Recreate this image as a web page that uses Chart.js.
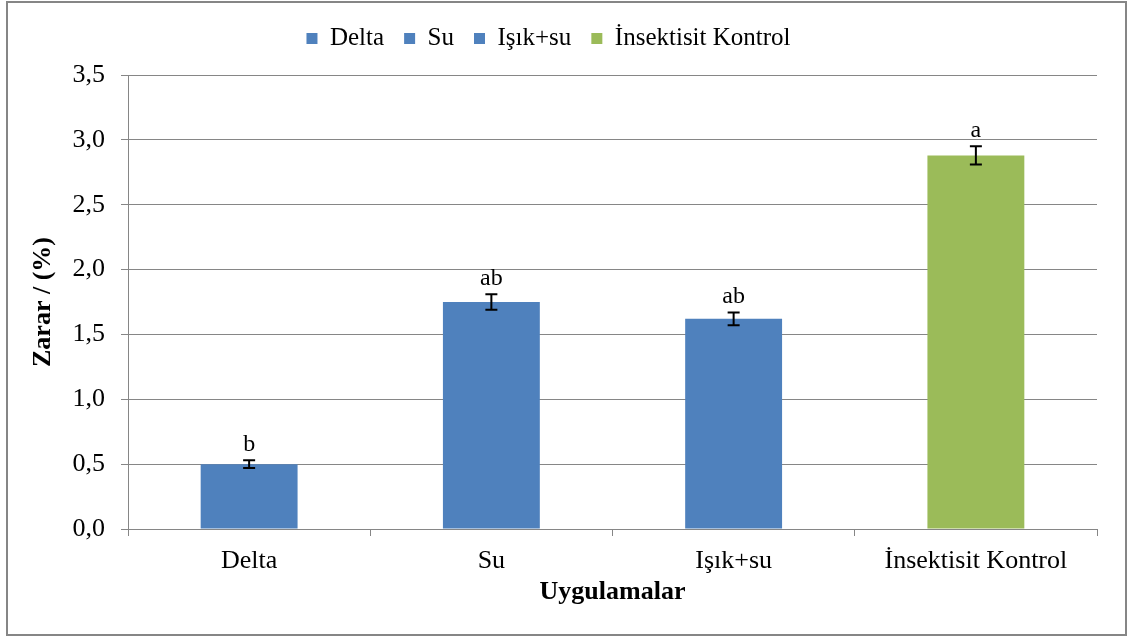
<!DOCTYPE html>
<html>
<head>
<meta charset="utf-8">
<script src="https://cdn.jsdelivr.net/npm/chart.js@4"></script>
<style>
  body { margin: 0; background: #fff; }
  #wrap { width: 1130px; height: 639px; }
</style>
</head>
<body>
<div id="wrap"><canvas id="chart"></canvas></div>
<script>
const labels = ['Delta', 'Su', 'Işık+su', 'İnsektisit Kontrol'];
const values = [0.50, 1.75, 1.62, 2.88];
const errors = [0.03, 0.06, 0.05, 0.07];
const letters = ['b', 'ab', 'ab', 'a'];
const colors = ['#4F81BD', '#4F81BD', '#4F81BD', '#9BBB59'];

const serif = 'Liberation Serif';
const gray = '#868686';

Chart.defaults.font.family = serif;

// frame around the whole figure + white background
const framePlugin = {
  id: 'frame',
  beforeDraw(chart) {
    const ctx = chart.ctx;
    ctx.save();
    ctx.fillStyle = '#fff';
    ctx.fillRect(0, 0, chart.width, chart.height);
    ctx.strokeStyle = gray;
    ctx.lineWidth = 2;
    ctx.strokeRect(7, 2, 1119, 633);
    ctx.restore();
  }
};

// error bars and significance letters
const errPlugin = {
  id: 'errbars',
  afterDatasetsDraw(chart) {
    const ctx = chart.ctx;
    const y = chart.scales.y;
    const meta = chart.getDatasetMeta(0);
    ctx.save();
    ctx.strokeStyle = '#000';
    ctx.lineWidth = 2;
    meta.data.forEach((bar, i) => {
      const cx = bar.x;
      const top = y.getPixelForValue(values[i] + errors[i]);
      const bot = y.getPixelForValue(values[i] - errors[i]);
      ctx.beginPath();
      ctx.moveTo(cx, top); ctx.lineTo(cx, bot);
      ctx.moveTo(cx - 6, top); ctx.lineTo(cx + 6, top);
      ctx.moveTo(cx - 6, bot); ctx.lineTo(cx + 6, bot);
      ctx.stroke();
      ctx.fillStyle = '#000';
      ctx.font = '24px "Liberation Serif"';
      ctx.textAlign = 'center';
      ctx.textBaseline = 'alphabetic';
      ctx.fillText(letters[i], cx, top - 9);
    });
    ctx.restore();
  }
};

const legendHeight = {
  id: 'legendHeight',
  beforeInit(chart) {
    const fit = chart.legend.fit;
    chart.legend.fit = function () {
      fit.call(this);
      this.height = 69;
    };
  }
};

new Chart(document.getElementById('chart'), {
  type: 'bar',
  data: {
    labels: labels,
    datasets: [{
      data: values,
      backgroundColor: colors,
      barPercentage: 0.4,
      categoryPercentage: 1.0
    }]
  },
  options: {
    responsive: true,
    maintainAspectRatio: false,
    animation: false,
    layout: { padding: { top: 6, right: 33, bottom: 0, left: 0 } },
    plugins: {
      tooltip: { enabled: false },
      legend: {
        position: 'top',
        labels: {
          color: '#000',
          font: { family: serif, size: 25 },
          boxWidth: 11,
          boxHeight: 11,
          padding: 20,
          generateLabels: () => labels.map((l, i) => ({
            text: l, fillStyle: colors[i], strokeStyle: colors[i],
            fontColor: '#000', lineWidth: 0, hidden: false, index: i
          }))
        }
      }
    },
    scales: {
      y: {
        min: 0,
        max: 3.5,
        afterFit: s => { s.width = 128; },
        ticks: {
          stepSize: 0.5,
          color: '#000',
          font: { family: serif, size: 26 },
          padding: 16,
          callback: v => v.toFixed(1).replace('.', ',')
        },
        grid: { color: gray, tickLength: 7 },
        border: { color: gray },
        title: {
          display: true,
          text: 'Zarar / (%)',
          color: '#000',
          font: { family: serif, size: 26, weight: 'bold' },
          padding: { top: 28, bottom: 0 }
        }
      },
      x: {
        afterFit: s => { s.height = 110; },
        ticks: {
          color: '#000',
          font: { family: serif, size: 26 },
          padding: 10
        },
        grid: { color: gray, tickLength: 7, drawOnChartArea: false },
        border: { color: gray },
        title: {
          display: true,
          text: 'Uygulamalar',
          color: '#000',
          font: { family: serif, size: 26, weight: 'bold' },
          padding: { top: 0, bottom: 31 }
        }
      }
    }
  },
  plugins: [framePlugin, errPlugin, legendHeight]
});
</script>
</body>
</html>
